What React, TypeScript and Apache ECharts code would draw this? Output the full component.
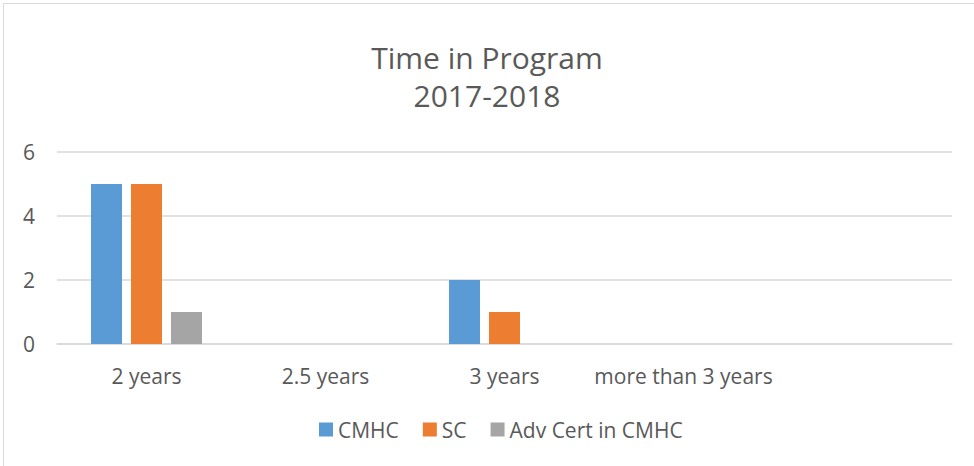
import React, { useEffect, useRef } from "react";
import * as echarts from "echarts";

const categories = ["2 years", "2.5 years", "3 years", "more than 3 years", ""];
const cmhc = [5, null, 2, null, null];
const sc = [5, null, 1, null, null];
const advCert = [1, null, null, null, null];
const yTicks = { min: 0, max: 6, interval: 2 };

const FONT = "'Open Sans', sans-serif";
const TXT = "#595959";

export default function App() {
  const ref = useRef<HTMLDivElement>(null);
  useEffect(() => {
    if (!ref.current) return;
    const chart = echarts.init(ref.current, undefined, { renderer: "svg" });
    chart.setOption({
      animation: false,
      backgroundColor: "#ffffff",
      textStyle: { fontFamily: FONT },
      graphic: [
        {
          type: "rect",
          shape: { x: 3.5, y: 3.5, width: 1100, height: 600 },
          style: { fill: "none", stroke: "#d9d9d9", lineWidth: 1 },
          silent: true,
        },
      ],
      title: {
        text: "Time in Program\n2017-2018",
        left: "center",
        top: 33,
        textStyle: {
          fontFamily: FONT,
          fontSize: 30,
          lineHeight: 38,
          fontWeight: "normal",
          color: TXT,
        },
      },
      legend: {
        left: 314,
        top: 414,
        itemWidth: 14,
        itemHeight: 14,
        itemGap: 24,
        icon: "rect",
        textStyle: { fontFamily: FONT, fontSize: 21, color: TXT },
        data: ["CMHC", "SC", "Adv Cert in CMHC"],
      },
      grid: { left: 57, right: 22, top: 152, bottom: 122 },
      xAxis: {
        type: "category",
        data: categories,
        axisLine: { lineStyle: { color: "#d9d9d9", width: 1.5 } },
        axisTick: { show: false },
        axisLabel: { fontFamily: FONT, fontSize: 21, color: TXT, margin: 21, interval: 0 },
      },
      yAxis: {
        type: "value",
        min: yTicks.min,
        max: yTicks.max,
        interval: yTicks.interval,
        axisLine: { show: false },
        axisTick: { show: false },
        splitLine: { lineStyle: { color: "#d9d9d9", width: 1.5 } },
        axisLabel: { fontFamily: FONT, fontSize: 21, color: TXT, margin: 22 },
      },
      series: [
        { name: "CMHC", type: "bar", data: cmhc, itemStyle: { color: "#5B9BD5" }, barGap: "29%", barCategoryGap: "38%" },
        { name: "SC", type: "bar", data: sc, itemStyle: { color: "#ED7D31" }, barGap: "29%", barCategoryGap: "38%" },
        { name: "Adv Cert in CMHC", type: "bar", data: advCert, itemStyle: { color: "#A5A5A5" }, barGap: "29%", barCategoryGap: "38%" },
      ],
    });
    return () => chart.dispose();
  }, []);
  return (
    <div
      ref={ref}
      style={{ position: "fixed", left: 0, top: 0, width: 974, height: 466 }}
    />
  );
}
